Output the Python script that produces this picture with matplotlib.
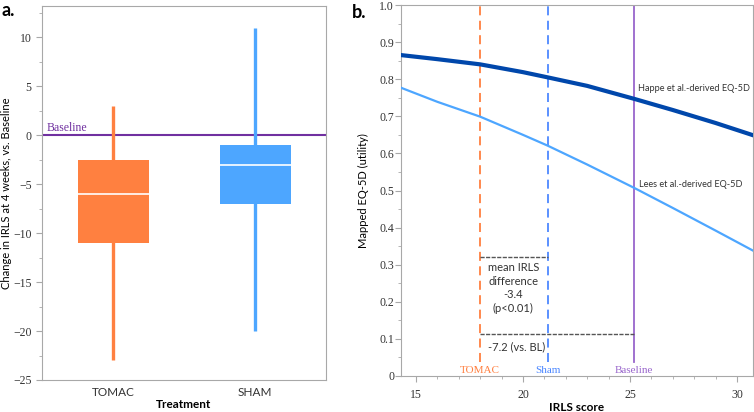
import matplotlib
matplotlib.use('Agg')
import matplotlib.pyplot as plt
from matplotlib.ticker import MultipleLocator

# panel a: box summaries
groups = ['TOMAC', 'SHAM']
whis_hi = [3, 11]
q3 = [-2.5, -1]
median = [-6, -3]
q1 = [-11, -7]
whis_lo = [-23, -20]
box_colors = ['#FF8040', '#4DA6FF']

# panel b: mapped utility curves
irls = [14.3, 16, 18, 20, 21.15, 23, 25.2, 27, 29, 30.75]
happe = [0.865, 0.854, 0.840, 0.819, 0.805, 0.782, 0.747, 0.717, 0.682, 0.649]
lees = [0.777, 0.739, 0.699, 0.650, 0.621, 0.570, 0.507, 0.453, 0.392, 0.338]
ref_names = ['TOMAC', 'Sham', 'Baseline']
ref_irls = [18.0, 21.15, 25.2]
ref_colors = ['#FF7F3F', '#4D88FF', '#9966CC']
diff_sham = -3.4
diff_bl = -7.2

serif = 'Liberation Serif'
sans = 'Lato'
spine_col = '#A8A8A8'

fig = plt.figure(figsize=(7.54, 4.12), dpi=100)
ax1 = fig.add_axes([42/754, 32/412, 284/754, 374/412])
ax2 = fig.add_axes([401/754, 36/412, 352/754, 371/412])

for ax in (ax1, ax2):
    for s in ax.spines.values():
        s.set_color(spine_col)
    ax.tick_params(which='both', direction='out', color=spine_col)
    ax.tick_params(which='major', length=4)
    ax.tick_params(which='minor', length=2.5)

# ---- panel a
bw = 0.5
for i in range(len(groups)):
    c = box_colors[i]
    ax1.plot([i, i], [whis_lo[i], whis_hi[i]], color=c, lw=2.4, zorder=2, solid_capstyle='butt')
    ax1.bar(i, q3[i] - q1[i], bottom=q1[i], width=bw, color=c, zorder=3)
    ax1.plot([i - bw/2, i + bw/2], [median[i], median[i]], color='white', lw=1.2, zorder=4)
ax1.axhline(0, color='#7030A0', lw=1.5, zorder=1)
ax1.text(-0.47, 0.15, 'Baseline', color='#7030A0', family=serif, fontsize=8.5, va='bottom', ha='left')
ax1.set_xlim(-0.5, 1.5)
ax1.set_ylim(-25, 13.2)
ax1.set_xticks(range(len(groups)))
ax1.set_xticklabels(groups, family=sans, fontsize=8.5, color='#333333')
ax1.tick_params(axis='x', length=0, pad=5)
ax1.yaxis.set_major_locator(MultipleLocator(5))
ax1.yaxis.set_minor_locator(MultipleLocator(2.5))
for lab in ax1.get_yticklabels():
    lab.set_family(serif)
    lab.set_fontsize(8.5)
    lab.set_color('#333333')
ax1.set_ylabel('Change in IRLS at 4 weeks, vs. Baseline', family=sans, fontsize=8, labelpad=1)
ax1.set_xlabel('Treatment', family=sans, fontsize=8.5, fontweight='bold', labelpad=1)

# ---- panel b
ax2.plot(irls, happe, color='#0047AB', lw=3, zorder=3)
ax2.plot(irls, lees, color='#4DA6FF', lw=1.6, zorder=3)
for name, x, c in zip(ref_names, ref_irls, ref_colors):
    ls = '-' if name == 'Baseline' else (0, (5, 3))
    ax2.plot([x, x], [0.038, 1.0], color=c, lw=1.3, ls=ls, zorder=2)
    ax2.text(x, 0.004, name, color=c, family=serif, fontsize=8, ha='center', va='bottom')

ax2.plot([ref_irls[0], ref_irls[1]], [0.322, 0.322], color='#555555', lw=1, ls=(0, (3, 1)), zorder=2)
ax2.plot([ref_irls[0], ref_irls[2]], [0.113, 0.113], color='#555555', lw=1, ls=(0, (3, 1)), zorder=2)
ax2.text(19.55, 0.237, 'mean IRLS\ndifference\n%.1f\n(p<0.01)' % diff_sham, family=sans, fontsize=8,
         ha='center', va='center', color='#333333', linespacing=1.3)
ax2.text(19.7, 0.078, '%.1f (vs. BL)' % diff_bl, family=sans, fontsize=8, ha='center', va='center',
         color='#333333')
ax2.text(25.37, 0.776, 'Happe et al.-derived EQ-5D', family=sans, fontsize=6.6, ha='left', va='center',
         color='#333333')
ax2.text(25.4, 0.517, 'Lees et al.-derived EQ-5D', family=sans, fontsize=6.6, ha='left', va='center',
         color='#333333')

ax2.set_xlim(14.3, 30.75)
ax2.set_ylim(0, 1.0)
ax2.xaxis.set_major_locator(MultipleLocator(5))
ax2.xaxis.set_minor_locator(MultipleLocator(1))
ax2.yaxis.set_minor_locator(MultipleLocator(0.05))
ax2.set_yticks([0, 0.1, 0.2, 0.3, 0.4, 0.5, 0.6, 0.7, 0.8, 0.9, 1.0])
ax2.set_yticklabels(['0', '0.1', '0.2', '0.3', '0.4', '0.5', '0.6', '0.7', '0.8', '0.9', '1.0'])
for lab in ax2.get_xticklabels() + ax2.get_yticklabels():
    lab.set_family(serif)
    lab.set_fontsize(8.5)
    lab.set_color('#333333')
ax2.tick_params(axis='y', pad=1)
ax2.tick_params(axis='x', pad=5)
ax2.set_ylabel('Mapped EQ-5D (utility)', family=sans, fontsize=8, labelpad=7)
ax2.set_xlabel('IRLS score', family=sans, fontsize=8.5, fontweight='bold', labelpad=1)

fig.text(2/754, 1 - 16/412, 'a.', fontsize=13, fontweight='bold', family=sans)
fig.text(352/754, 1 - 18/412, 'b.', fontsize=13, fontweight='bold', family=sans)

fig.savefig('out.png', dpi=100)
